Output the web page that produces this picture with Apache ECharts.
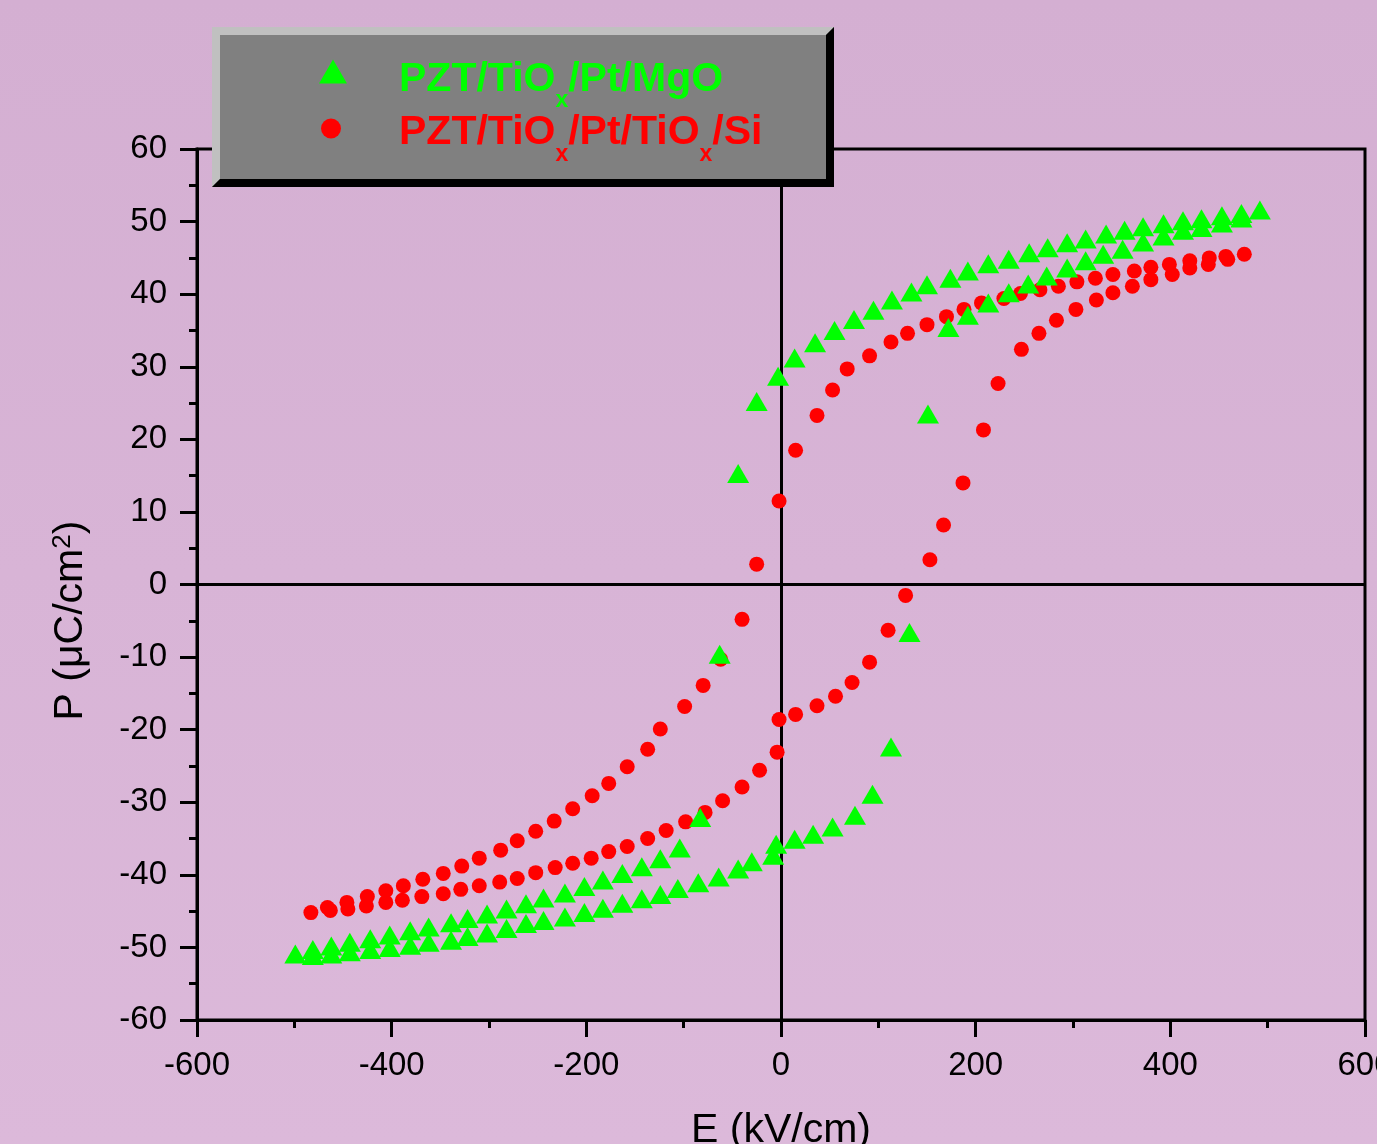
<!DOCTYPE html>
<html>
<head>
<meta charset="utf-8">
<title>P-E hysteresis</title>
<script src="https://cdn.jsdelivr.net/npm/echarts@6/dist/echarts.min.js"></script>
<style>
html, body { margin: 0; padding: 0; }
#main { width: 1377px; height: 1144px; }
</style>
</head>
<body>
<div id="main"></div>
<script>
// PZT/TiOx/Pt/MgO - rising branch then falling branch
var mgoAscE = [-499, -481, -462, -443, -422, -402, -381, -362, -339, -322, -302, -282, -262, -244, -222, -202, -183, -163, -143, -124, -106, -85, -64, -44, -30, -8, -5, 14, 33, 53, 76, 94, 113, 132, 151, 172, 192, 213, 234, 254, 273, 294, 313, 331, 351, 372, 393, 413, 432, 453, 473, 492];
var mgoAscP = [-50.9, -51.1, -50.9, -50.6, -50.3, -50.0, -49.7, -49.3, -49.0, -48.5, -48.0, -47.4, -46.7, -46.3, -45.8, -45.2, -44.6, -43.9, -43.3, -42.7, -41.9, -41.1, -40.3, -39.2, -38.2, -37.3, -35.8, -35.1, -34.4, -33.4, -31.8, -28.9, -22.4, -6.6, 23.5, 35.4, 37.1, 38.8, 40.2, 41.4, 42.5, 43.6, 44.6, 45.5, 46.2, 47.2, 48.0, 48.8, 49.2, 49.8, 50.5, 51.6];
var mgoDescE = [473, 453, 432, 413, 393, 372, 353, 334, 313, 294, 274, 255, 234, 213, 192, 174, 150, 134, 114, 95, 75, 55, 35, 14, -3, -25, -44, -63, -83, -104, -124, -143, -163, -183, -202, -222, -244, -262, -282, -302, -322, -339, -362, -381, -402, -422, -443, -462, -481];
var mgoDescP = [51.1, 50.8, 50.4, 50.1, 49.7, 49.3, 48.8, 48.3, 47.6, 47.1, 46.4, 45.7, 44.8, 44.2, 43.2, 42.2, 41.3, 40.3, 39.2, 37.8, 36.5, 35.0, 33.3, 31.2, 28.7, 25.2, 15.3, -9.6, -32.1, -36.3, -37.8, -38.9, -39.8, -40.7, -41.6, -42.5, -43.2, -44.0, -44.7, -45.4, -46.0, -46.6, -47.2, -47.7, -48.3, -48.8, -49.3, -49.8, -50.3];

// PZT/TiOx/Pt/TiOx/Si
var siAscE = [-483, -463, -445, -426, -406, -389, -369, -347, -329, -310, -289, -271, -252, -232, -214, -195, -177, -158, -137, -118, -98, -78, -60, -40, -22, -4, -2, 15, 37, 56, 73, 91, 110, 128, 153, 167, 187, 208, 223, 247, 265, 283, 303, 324, 341, 361, 380, 402, 420, 439, 459, 476];
var siAscP = [-45.2, -44.9, -44.7, -44.3, -43.8, -43.5, -43.0, -42.6, -42.0, -41.5, -41.0, -40.5, -39.7, -39.0, -38.4, -37.7, -36.8, -36.1, -35.0, -33.9, -32.7, -31.4, -29.8, -27.9, -25.6, -23.1, -18.6, -17.9, -16.7, -15.4, -13.5, -10.7, -6.3, -1.5, 3.4, 8.2, 14.0, 21.3, 27.7, 32.4, 34.6, 36.4, 37.9, 39.2, 40.2, 41.1, 42.0, 42.7, 43.6, 44.1, 44.8, 45.5];
var siDescE = [457, 440, 420, 399, 380, 363, 341, 323, 304, 285, 266, 246, 229, 206, 188, 170, 150, 130, 113, 91, 68, 53, 37, 15, -2, -25, -40, -62, -80, -99, -124, -137, -158, -177, -194, -214, -233, -252, -271, -288, -310, -328, -347, -368, -388, -406, -425, -446, -466];
var siDescP = [45.2, 45.0, 44.6, 44.1, 43.7, 43.2, 42.7, 42.2, 41.7, 41.1, 40.6, 40.1, 39.4, 38.8, 37.9, 36.9, 35.8, 34.6, 33.4, 31.5, 29.7, 26.8, 23.3, 18.5, 11.5, 2.8, -4.8, -10.3, -13.9, -16.8, -19.9, -22.7, -25.1, -27.4, -29.1, -30.9, -32.6, -34.0, -35.3, -36.6, -37.7, -38.8, -39.8, -40.6, -41.5, -42.2, -43.0, -43.8, -44.5];

function pairs(xs, ys) {
	var out = [];
	for (var i = 0; i < xs.length; i++) {
		out.push([xs[i], ys[i]]);
	}
	return out;
}

var font = 'Liberation Sans, Arial, sans-serif';
var green = '#00ff00';
var red = '#ff0000';

// t: top pad of main text, p: top pad of the subscript, lead: gap after the icon
function legendRich(color, t, p, lead) {
	var main = { color: color, fontSize: 41, fontWeight: 'bold', fontFamily: font, lineHeight: 41, verticalAlign: 'top' };
	return {
		a: Object.assign({}, main, { padding: [t, 0, 0, lead] }),
		b: Object.assign({}, main, { padding: [t, 0, 0, 0] }),
		s: { color: color, fontSize: 23, fontWeight: 'bold', fontFamily: font, lineHeight: 23, verticalAlign: 'top', padding: [p, 0, 0, 0] }
	};
}

var myChart = echarts.init(document.getElementById('main'));

var option = {
	animation: false,
	backgroundColor: new echarts.graphic.LinearGradient(0, 0, 0, 1, [
		{ offset: 0, color: '#d4afd2' },
		{ offset: 1, color: '#dcb9da' }
	]),
	grid: {
		left: 197,
		top: 149,
		width: 1168,
		height: 871,
		containLabel: false,
		outerBoundsMode: 'none',
		show: true,
		borderColor: '#000',
		borderWidth: 3,
		backgroundColor: 'transparent'
	},
	xAxis: {
		type: 'value',
		min: -600,
		max: 600,
		interval: 200,
		name: 'E (kV/cm)',
		nameLocation: 'middle',
		nameGap: 90,
		nameTextStyle: { color: '#000', fontSize: 41, fontFamily: font },
		axisLine: { onZero: false, lineStyle: { color: '#000', width: 3 } },
		axisTick: { length: 17, lineStyle: { color: '#000', width: 3 } },
		minorTick: { show: true, splitNumber: 2, length: 8, lineStyle: { color: '#000', width: 3 } },
		axisLabel: { color: '#000', fontSize: 33, fontFamily: font, margin: 29 },
		splitLine: { show: false }
	},
	yAxis: {
		type: 'value',
		min: -60,
		max: 60,
		interval: 10,
		name: '{n|P (μC/cm}{sup|2}{n|)}',
		nameLocation: 'middle',
		nameGap: 106,
		nameTextStyle: {
			color: '#000',
			fontSize: 41,
			fontFamily: font,
			padding: [0, 72, 0, 0],
			rich: {
				n: { color: '#000', fontSize: 41, fontFamily: font, lineHeight: 41, verticalAlign: 'bottom', padding: [9, 0, 0, 0] },
				sup: { color: '#000', fontSize: 26, fontFamily: font, lineHeight: 26, verticalAlign: 'top' }
			}
		},
		axisLine: { onZero: false, lineStyle: { color: '#000', width: 3 } },
		axisTick: { length: 17, lineStyle: { color: '#000', width: 3 } },
		minorTick: { show: true, splitNumber: 2, length: 8, lineStyle: { color: '#000', width: 3 } },
		axisLabel: { color: '#000', fontSize: 33, fontFamily: font, margin: 30 },
		splitLine: { show: false }
	},
	legend: [{
		data: [{ name: 'PZT/TiOx/Pt/MgO', icon: 'triangle' }],
		left: 319,
		top: 51,
		padding: 0,
		z: 10,
		itemWidth: 28,
		itemHeight: 24,
		selectedMode: false,
		formatter: function() {
			return '{a|PZT/TiO}{s|x}{b|/Pt/MgO}';
		},
		textStyle: { fontSize: 41, rich: legendRich(green, 8, 38, 47) }
	}, {
		data: [{ name: 'PZT/TiOx/Pt/TiOx/Si', icon: 'circle' }],
		left: 321,
		top: 108,
		padding: 0,
		z: 10,
		itemWidth: 20,
		itemHeight: 20,
		selectedMode: false,
		formatter: function() {
			return '{a|PZT/TiO}{s|x}{b|/Pt/TiO}{s|x}{b|/Si}';
		},
		textStyle: { fontSize: 41, rich: legendRich(red, 4, 35, 53) }
	}],
	graphic: [{
		type: 'rect',
		z: 8,
		shape: { x: 212, y: 27, width: 622, height: 160 },
		style: { fill: '#808080' }
	}, {
		type: 'polygon',
		z: 9,
		shape: { points: [[212, 27], [834, 27], [826, 35], [220, 35], [220, 179], [212, 187]] },
		style: { fill: '#c0c0c0' }
	}, {
		type: 'polygon',
		z: 9,
		shape: { points: [[834, 27], [834, 187], [212, 187], [220, 179], [826, 179], [826, 35]] },
		style: { fill: '#000' }
	}],
	series: [{
		name: 'PZT/TiOx/Pt/TiOx/Si',
		type: 'scatter',
		symbol: 'circle',
		symbolSize: 15,
		itemStyle: { color: red, opacity: 1 },
		data: pairs(siAscE, siAscP).concat(pairs(siDescE, siDescP)),
		markLine: {
			silent: true,
			z: 1,
			symbol: 'none',
			label: { show: false },
			lineStyle: { color: '#000', width: 3, type: 'solid' },
			data: [{ xAxis: 0 }, { yAxis: 0 }]
		}
	}, {
		name: 'PZT/TiOx/Pt/MgO',
		type: 'scatter',
		symbol: 'triangle',
		symbolSize: [22, 19],
		z: 3,
		itemStyle: { color: green, opacity: 1 },
		data: pairs(mgoAscE, mgoAscP).concat(pairs(mgoDescE, mgoDescP))
	}]
};

myChart.setOption(option);
</script>
</body>
</html>
